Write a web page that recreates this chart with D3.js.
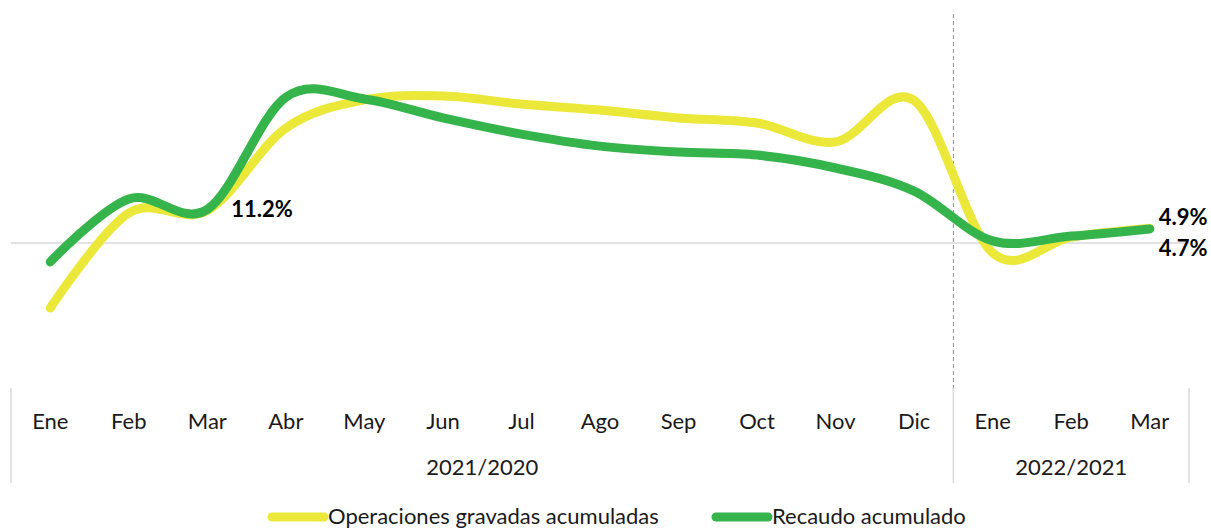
<!DOCTYPE html>
<html>
<head>
<meta charset="utf-8">
<script src="https://cdn.jsdelivr.net/npm/d3@7"></script>
<style>
  body { margin: 0; background: #fff; }
  text { font-family: Lato, "Open Sans", sans-serif; }
</style>
</head>
<body>
<div id="chart"></div>
<script>
// data
var months = ["Ene","Feb","Mar","Abr","May","Jun","Jul","Ago","Sep","Oct","Nov","Dic","Ene","Feb","Mar"];
var groups = [{name: "2021/2020", from: 0, to: 11}, {name: "2022/2021", from: 12, to: 14}];
var operaciones = [-21.7, 10.0, 10.8, 38.3, 47.7, 49.0, 46.3, 44.3, 41.7, 40.0, 33.7, 47.5, -3.3, 2.0, 4.9];
var recaudo = [-6.3, 14.7, 11.2, 48.6, 48.0, 41.7, 36.3, 32.3, 30.3, 29.3, 25.0, 17.3, 0.7, 2.3, 4.7];
var seriesNames = ["Operaciones gravadas acumuladas", "Recaudo acumulado"];
var colors = ["#ebe83a", "#35b44c"];

var width = 1211, height = 531;
var fs = 22;

var svg = d3.select("#chart").append("svg")
    .attr("width", width)
    .attr("height", height);

// scales
var x = d3.scaleBand()
    .domain(d3.range(months.length))
    .range([11, 1189]);
var y = d3.scaleLinear()
    .domain([-40, 80])
    .range([363, 3]);

var cx = function(i) { return x(i) + x.bandwidth() / 2; };

// zero line
svg.append("line")
    .attr("x1", 11).attr("x2", 1189)
    .attr("y1", y(0)).attr("y2", y(0))
    .attr("stroke", "#d9d9d9").attr("stroke-width", 1.5);

// dashed divider between years
var divX = x(12);
svg.append("line")
    .attr("x1", divX).attr("x2", divX)
    .attr("y1", 14).attr("y2", 392)
    .attr("stroke", "#8c8c8c").attr("stroke-width", 1)
    .attr("stroke-dasharray", "4,3");

// category separators
[x(0), divX, x(14) + x.bandwidth()].forEach(function(sx) {
  svg.append("line")
      .attr("x1", sx).attr("x2", sx)
      .attr("y1", 388).attr("y2", 483)
      .attr("stroke", "#d9d9d9").attr("stroke-width", 1.5);
});

// month axis
var axis = svg.append("g")
    .attr("transform", "translate(0,410)")
    .call(d3.axisBottom(x).tickSize(0).tickFormat(function(i) { return months[i]; }));
axis.select(".domain").remove();
axis.selectAll("text")
    .attr("font-size", fs)
    .attr("fill", "#1a1a1a")
    .attr("font-family", "Lato, sans-serif");

// group labels
svg.selectAll(".grp")
    .data(groups)
    .enter().append("text")
    .attr("class", "grp")
    .attr("x", function(d) { return (cx(d.from) + cx(d.to)) / 2; })
    .attr("y", 475)
    .attr("text-anchor", "middle")
    .attr("font-size", fs)
    .attr("fill", "#1a1a1a")
    .text(function(d) { return d.name; });

// lines
var line = d3.line()
    .x(function(d, i) { return cx(i); })
    .y(function(d) { return y(d); })
    .curve(d3.curveCatmullRom.alpha(0));

[operaciones, recaudo].forEach(function(vals, k) {
  svg.append("path")
      .datum(vals)
      .attr("d", line)
      .attr("fill", "none")
      .attr("stroke", colors[k])
      .attr("stroke-width", 9)
      .attr("stroke-linecap", "round")
      .attr("stroke-linejoin", "round");
});

// value labels
svg.append("text")
    .attr("x", cx(2) + 24).attr("y", y(recaudo[2]) + 8)
    .attr("font-size", fs).attr("font-weight", "bold")
    .text(d3.format(".1f")(recaudo[2]) + "%");
svg.append("text")
    .attr("x", cx(14) + 9).attr("y", y(operaciones[14]) - 3)
    .attr("font-size", fs).attr("font-weight", "bold")
    .text(d3.format(".1f")(operaciones[14]) + "%");
svg.append("text")
    .attr("x", cx(14) + 9).attr("y", y(recaudo[14]) + 27)
    .attr("font-size", fs).attr("font-weight", "bold")
    .text(d3.format(".1f")(recaudo[14]) + "%");

// legend
var legendX = [268, 712];
seriesNames.forEach(function(name, k) {
  var g = svg.append("g").attr("transform", "translate(" + legendX[k] + ",517)");
  g.append("line")
      .attr("x1", 4).attr("x2", 56)
      .attr("stroke", colors[k]).attr("stroke-width", 9)
      .attr("stroke-linecap", "round");
  g.append("text")
      .attr("x", 60).attr("y", 7)
      .attr("font-size", fs).attr("fill", "#1a1a1a")
      .text(name);
});
</script>
</body>
</html>
